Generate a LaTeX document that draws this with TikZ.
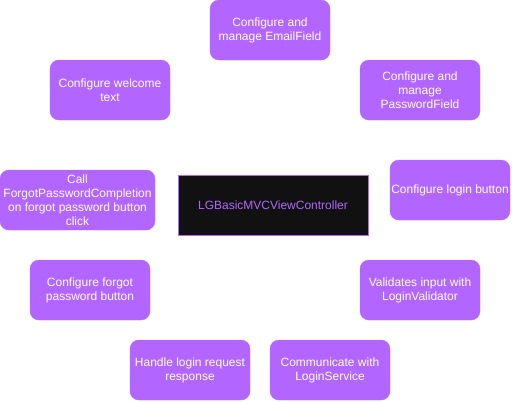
\documentclass[tikz,border=0pt]{standalone}
\usepackage{fontspec}
\setmainfont{Liberation Sans}
\usepackage{tikz}
\usetikzlibrary{positioning}
\definecolor{lilac}{HTML}{B266FF}
\definecolor{nearblack}{HTML}{111111}
\tikzset{
  task/.style={rectangle, rounded corners=9pt, minimum width=120pt, minimum height=60pt, inner sep=0pt,
               text centered, align=center, fill=lilac, draw=lilac, text=white,
               font=\fontsize{12}{14}\selectfont},
  controller/.style={rectangle, minimum width=190pt, minimum height=60pt, inner sep=0pt,
               text centered, fill=nearblack, draw=lilac, line width=1pt, text=lilac,
               font=\fontsize{12}{14}\selectfont}
}
\begin{document}
\begin{tikzpicture}[x=1pt, y=-1pt]
  \useasboundingbox (0,0) rectangle (512,402);

  \node (vc) [controller] at (273,205) {LGBasicMVCViewController};

  \node (emailField) [task] at (270,30) {Configure and\\manage EmailField};
  \node (welcomeText) [task] at (110,90) {Configure welcome\\text};
  \node (passwordField) [task] at (420,90) {Configure and\\manage\\PasswordField};
  \node (forgotCompletion) [task, minimum width=155pt] at (77.5,200) {Call\\ForgotPasswordCompletion\\on forgot password button\\click};
  \node (loginButton) [task] at (450,190) {Configure login button};
  \node (forgotButton) [task] at (90,290) {Configure forgot\\password button};
  \node (validator) [task] at (420,290) {Validates input with\\LoginValidator};
  \node (loginResponse) [task] at (190,370) {Handle login request\\response};
  \node (loginService) [task] at (330,370) {Communicate with\\LoginService};

\end{tikzpicture}
\end{document}
